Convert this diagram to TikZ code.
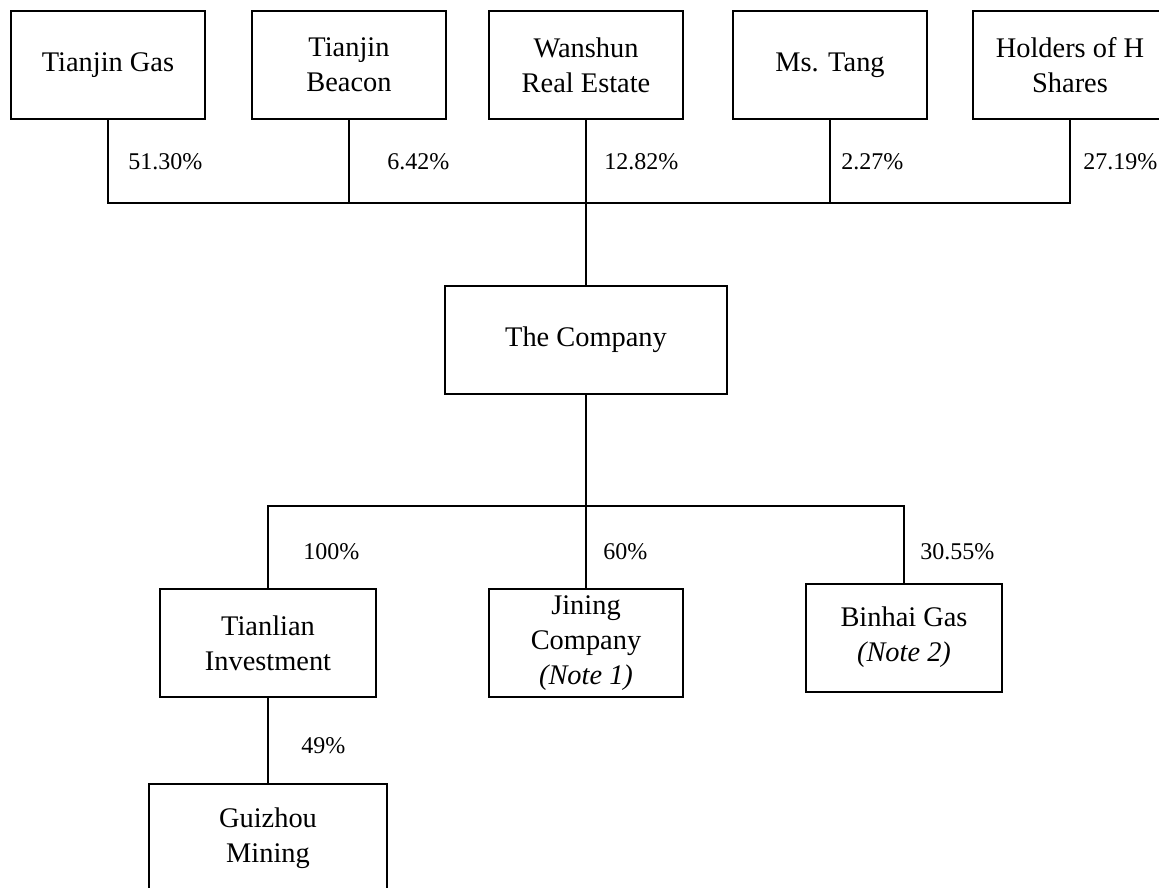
\documentclass[tikz,border=0pt]{standalone}
\usepackage{fontspec}
\setmainfont{Liberation Serif}

\begin{document}
\begin{tikzpicture}[x=0.5pt,y=-0.5pt]

%
% Styles
%
\tikzstyle{entity} = [rectangle,draw=black,line width=1pt,align=center,inner sep=0pt,
                      minimum height=54pt,font=\fontsize{14.2}{17.5}\selectfont]
\tikzstyle{share}  = [anchor=west,inner sep=0pt,font=\fontsize{12}{14}\selectfont]
\tikzstyle{link}   = [line width=1pt]

\clip (0,0) rectangle (1159,887);

% shareholders
\node[entity,minimum width=97pt] (gas)     at ( 108, 65) {Tianjin Gas};
\node[entity,minimum width=97pt] (beacon)  at ( 349, 65) {Tianjin\\Beacon};
\node[entity,minimum width=97pt] (wanshun) at ( 586, 65) {Wanshun\\Real Estate};
\node[entity,minimum width=97pt] (tang)    at ( 830, 65) {Ms. Tang};
\node[entity,minimum width=97pt] (holders) at (1070, 65) {Holders of H\\Shares};

% the company and its subsidiaries
\node[entity,minimum width=141pt] (company)  at (586, 340)   {The Company};
\node[entity,minimum width=108pt] (tianlian) at (268, 643)   {Tianlian\\Investment};
\node[entity,minimum width=97pt]  (jining)   at (586, 643)   {Jining\\Company\\\textit{(Note 1)}};
\node[entity,minimum width=98pt]  (binhai)   at (904, 637.5) {Binhai Gas\\\textit{(Note 2)}};
\node[entity,minimum width=119pt] (guizhou)  at (268, 838)   {Guizhou\\Mining};

\coordinate (topbus) at (586, 203);
\coordinate (lowbus) at (586, 506);

\draw[link] (gas.south) |- (topbus) -| (holders.south);
\draw[link] (beacon.south) -- (beacon.south |- topbus);
\draw[link] (tang.south) -- (tang.south |- topbus);
\draw[link] (wanshun.south) -- (company.north);
\draw[link] (company.south) -- (jining.north);
\draw[link] (tianlian.north) |- (lowbus) -| (binhai.north);
\draw[link] (tianlian.south) -- (guizhou.north);

% holdings
\node[share] (pgas)      at ( 128, 162) {51.30\%};
\node[share] (pbeacon)   at ( 387, 162) {6.42\%};
\node[share] (pwanshun)  at ( 604, 162) {12.82\%};
\node[share] (ptang)     at ( 841, 162) {2.27\%};
\node[share] (pholders)  at (1083, 162) {27.19\%};
\node[share] (ptianlian) at ( 303, 552) {100\%};
\node[share] (pjining)   at ( 603, 552) {60\%};
\node[share] (pbinhai)   at ( 920, 552) {30.55\%};
\node[share] (pguizhou)  at ( 301, 746) {49\%};

\end{tikzpicture}
\end{document}
